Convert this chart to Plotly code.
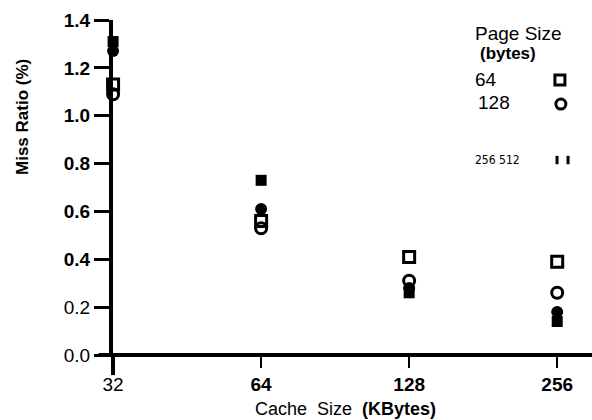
import plotly.graph_objects as go

cache_kb = [32, 64, 128, 256]
tick_labels = ["32", "<b>64</b>", "<b>128</b>", "<b>256</b>"]
y_ticks = [0.0, 0.2, 0.4, 0.6, 0.8, 1.0, 1.2, 1.4]
y_tick_labels = ["0.0", "0.2", "<b>0.4</b>", "<b>0.6</b>", "<b>0.8</b>",
                 "<b>1.0</b>", "<b>1.2</b>", "<b>1.4</b>"]

page_sizes = ["64", "128", "256", "512"]
miss_64 = [1.13, 0.56, 0.41, 0.39]
miss_128 = [1.09, 0.53, 0.31, 0.26]
miss_256 = [1.27, 0.61, 0.28, 0.18]
miss_512 = [1.31, 0.73, 0.26, 0.14]

FONT = "Liberation Sans, Arial, sans-serif"

fig = go.Figure()

series = [
    (miss_64, "square-open", 11, 3),
    (miss_128, "circle-open", 11, 3),
    (miss_256, "circle", 12, 0),
    (miss_512, "square", 11, 0),
]
for vals, sym, size, lw in series:
    fig.add_trace(go.Scatter(
        x=cache_kb, y=vals, mode="markers",
        marker=dict(symbol=sym, size=size, color="black",
                    line=dict(color="black", width=lw)),
        showlegend=False, cliponaxis=False,
    ))

# legend markers on an overlay axis in paper-like coordinates
leg_x = [0.933, 0.935, 0.927, 0.950]
leg_y = [0.821, 0.749, 0.582, 0.582]
leg_sym = ["square-open", "circle-open", "line-ns", "line-ns"]
for i in range(4):
    fig.add_trace(go.Scatter(
        x=[leg_x[i]], y=[leg_y[i]], xaxis="x2", yaxis="y2", mode="markers",
        marker=dict(symbol=leg_sym[i], size=10 if i < 2 else 6, color="black",
                    line=dict(color="black", width=3)),
        showlegend=False, cliponaxis=False,
    ))

fig.update_layout(
    width=592, height=420,
    margin=dict(l=113, r=0, t=20, b=65),
    paper_bgcolor="white", plot_bgcolor="white",
    showlegend=False,
    xaxis=dict(
        type="log", range=[1.505, 2.479], automargin=False,
        tickvals=cache_kb, ticktext=tick_labels,
        showgrid=False, zeroline=False,
        showline=False,
        ticks="outside", ticklen=12, tickwidth=2, tickcolor="black",
        tickfont=dict(family=FONT, size=19, color="black"),
    ),
    yaxis=dict(
        range=[0, 1.4], automargin=False,
        tickvals=y_ticks, ticktext=y_tick_labels,
        showgrid=False, zeroline=False,
        showline=True, linecolor="black", linewidth=4,
        ticks="outside", ticklen=15, tickwidth=3, tickcolor="black",
        tickfont=dict(family=FONT, size=19, color="black"),
    ),
    xaxis2=dict(range=[0, 1], overlaying="x", visible=False),
    yaxis2=dict(range=[0, 1], overlaying="y", visible=False),
)

# thick x axis line extending left of the y axis, y axis extension below zero
fig.add_shape(type="line", xref="paper", yref="paper", x0=-0.03, x1=1.0, y0=0, y1=0,
              line=dict(color="black", width=4))
fig.add_shape(type="line", xref="paper", yref="paper", x0=0, x1=0, y0=0, y1=-0.06,
              line=dict(color="black", width=4))

# axis titles
fig.add_annotation(text="Cache&nbsp; Size&nbsp; <b>(KBytes)</b>", xref="paper", yref="paper",
                   x=(345 - 113) / 479, y=(355 - 409) / 335, xanchor="center", yanchor="middle",
                   showarrow=False, font=dict(family=FONT, size=18, color="black"))
fig.add_annotation(text="<b>Miss Ratio (%)</b>", xref="paper", yref="paper",
                   x=(22 - 113) / 479, y=(355 - 117) / 335, xanchor="center", yanchor="middle",
                   textangle=-90, showarrow=False,
                   font=dict(family=FONT, size=17, color="black"))

# legend text
fig.add_annotation(text="Page Size", xref="paper", yref="paper", x=0.752, y=0.961,
                   xanchor="left", yanchor="middle", showarrow=False,
                   font=dict(family=FONT, size=19, color="black"))
fig.add_annotation(text="<b>(bytes)</b>", xref="paper", yref="paper", x=0.762, y=0.899,
                   xanchor="left", yanchor="middle", showarrow=False,
                   font=dict(family=FONT, size=17, color="black"))
fig.add_annotation(text=page_sizes[0], xref="paper", yref="paper", x=0.752, y=0.821,
                   xanchor="left", yanchor="middle", showarrow=False,
                   font=dict(family=FONT, size=19, color="black"))
fig.add_annotation(text=page_sizes[1], xref="paper", yref="paper", x=0.757, y=0.755,
                   xanchor="left", yanchor="middle", showarrow=False,
                   font=dict(family=FONT, size=19, color="black"))
fig.add_annotation(text=page_sizes[2] + " " + page_sizes[3], xref="paper", yref="paper",
                   x=0.752, y=0.582, xanchor="left", yanchor="middle", showarrow=False,
                   font=dict(family="Liberation Sans Narrow, DejaVu Sans Condensed, sans-serif",
                             size=12, color="black"))

fig.write_html("out.html", config={"displayModeBar": False},
               post_script="document.body.style.margin='0';")
